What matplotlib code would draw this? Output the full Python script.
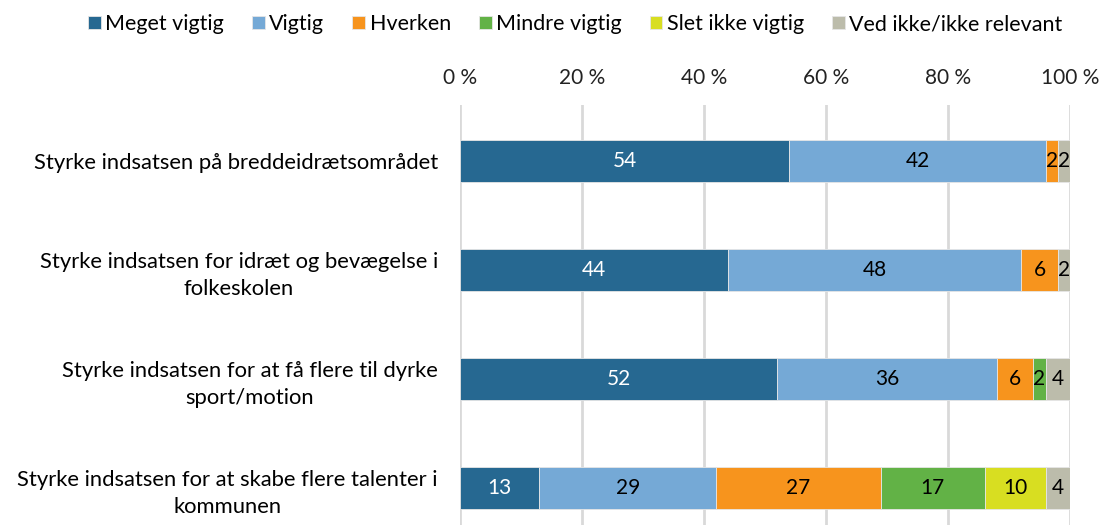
import numpy as np
import matplotlib
matplotlib.use('Agg')
from matplotlib import pyplot as plt
from matplotlib.ticker import FuncFormatter

plt.rcParams['font.family'] = ['Lato', 'DejaVu Sans']

categories = [
    "Styrke indsatsen på breddeidrætsområdet",
    "Styrke indsatsen for idræt og bevægelse i\nfolkeskolen",
    "Styrke indsatsen for at få flere til dyrke\nsport/motion",
    "Styrke indsatsen for at skabe flere talenter i\nkommunen",
]
series_names = ["Meget vigtig", "Vigtig", "Hverken", "Mindre vigtig",
                "Slet ikke vigtig", "Ved ikke/ikke relevant"]
meget_vigtig = [54, 44, 52, 13]
vigtig = [42, 48, 36, 29]
hverken = [2, 6, 6, 27]
mindre_vigtig = [0, 0, 2, 17]
slet_ikke = [0, 0, 0, 10]
ved_ikke = [2, 2, 4, 4]

colors = ["#266891", "#75a9d6", "#f7941d", "#62b246", "#d8de21", "#bcbcab"]
text_colors = ["white", "black", "black", "black", "black", "black"]

values = [meget_vigtig, vigtig, hverken, mindre_vigtig, slet_ikke, ved_ikke]

fig = plt.figure(figsize=(11.02, 5.25), dpi=100)
ax = fig.add_axes([0.4174, 0.0, 0.5536, 0.80])

y = np.arange(len(categories))
left = np.zeros(len(categories))
for name, vals, col, tcol in zip(series_names, values, colors, text_colors):
    vals = np.array(vals, dtype=float)
    bars = ax.barh(y, vals, left=left, height=0.39, color=col, label=name,
                   edgecolor="#e6e6e6", linewidth=0.6, zorder=3)
    for b, v in zip(bars, vals):
        if v > 0:
            ax.text(b.get_x() + b.get_width() / 2, b.get_y() + b.get_height() / 2,
                    "%d" % v, ha="center", va="center", color=tcol,
                    fontsize=15, zorder=4)
    left += vals

ax.set_xlim(0, 100)
ax.set_ylim(3.34, -0.515)
ax.set_xticks([0, 20, 40, 60, 80, 100])
ax.xaxis.set_major_formatter(FuncFormatter(lambda v, p: "%d %%" % v))
ax.xaxis.tick_top()
ax.tick_params(axis="x", length=0, pad=12, labelsize=15, colors="#222222")
ax.set_yticks(y)
ax.set_yticklabels(categories, fontsize=15.8, multialignment="center",
                   linespacing=1.45)
ax.tick_params(axis="y", length=0, pad=16)
ax.grid(axis="x", color="#d9d9d9", linewidth=2, zorder=0)
for s in ax.spines.values():
    s.set_visible(False)

fig.legend(loc="upper center", bbox_to_anchor=(0.522, 1.01), ncol=6,
           frameon=False, fontsize=15.5, handlelength=0.6, handleheight=0.6,
           handletextpad=0.2, columnspacing=1.3)

plt.savefig("out.png", dpi=100)
